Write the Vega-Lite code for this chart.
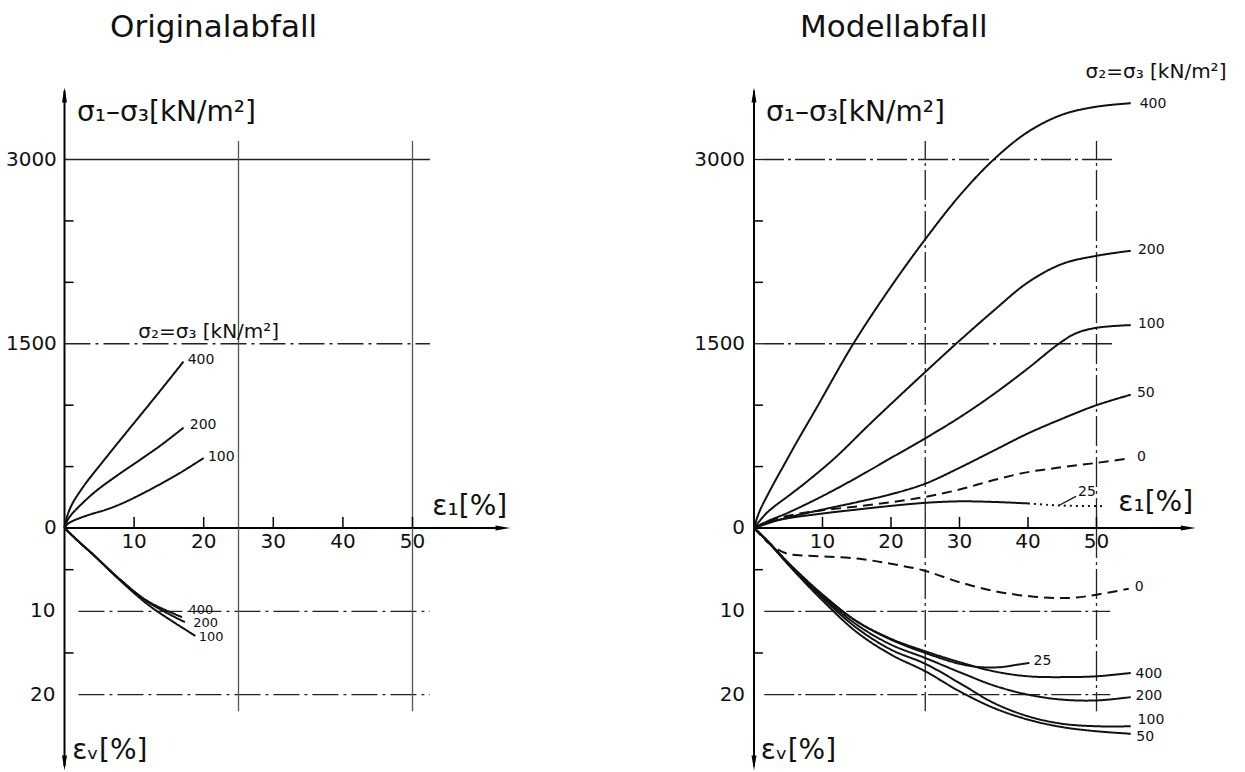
{
  "$schema": "https://vega.github.io/schema/vega-lite/v6.json",
  "padding": 0,
  "spacing": 0,
  "bounds": "flush",
  "background": "white",
  "config": {
    "view": {"stroke": null},
    "axis": {"disable": true},
    "legend": {"disable": true}
  },
  "datasets": {
    "curves": [
      {"p":"L","q":"s","id":"400","x":0,"y":0},{"p":"L","q":"s","id":"400","x":0.3,"y":80},{"p":"L","q":"s","id":"400","x":0.8,"y":160},{"p":"L","q":"s","id":"400","x":1.5,"y":235},{"p":"L","q":"s","id":"400","x":2.5,"y":320},{"p":"L","q":"s","id":"400","x":3.4,"y":390},{"p":"L","q":"s","id":"400","x":6,"y":575},{"p":"L","q":"s","id":"400","x":8.2,"y":730},{"p":"L","q":"s","id":"400","x":12.8,"y":1050},{"p":"L","q":"s","id":"400","x":17.1,"y":1355},
      {"p":"L","q":"s","id":"200","x":0,"y":0},{"p":"L","q":"s","id":"200","x":0.5,"y":70},{"p":"L","q":"s","id":"200","x":1,"y":110},{"p":"L","q":"s","id":"200","x":2,"y":170},{"p":"L","q":"s","id":"200","x":4.4,"y":295},{"p":"L","q":"s","id":"200","x":7.5,"y":425},{"p":"L","q":"s","id":"200","x":10.6,"y":545},{"p":"L","q":"s","id":"200","x":14,"y":680},{"p":"L","q":"s","id":"200","x":17.1,"y":817},
      {"p":"L","q":"s","id":"100","x":0,"y":0},{"p":"L","q":"s","id":"100","x":0.5,"y":35},{"p":"L","q":"s","id":"100","x":1.5,"y":65},{"p":"L","q":"s","id":"100","x":3.4,"y":105},{"p":"L","q":"s","id":"100","x":6,"y":150},{"p":"L","q":"s","id":"100","x":8.2,"y":198},{"p":"L","q":"s","id":"100","x":10.5,"y":260},{"p":"L","q":"s","id":"100","x":13,"y":334},{"p":"L","q":"s","id":"100","x":16.5,"y":445},{"p":"L","q":"s","id":"100","x":20,"y":570},
      {"p":"L","q":"v","id":"400","x":0,"y":0},{"p":"L","q":"v","id":"400","x":2,"y":1.6},{"p":"L","q":"v","id":"400","x":4,"y":3.1},{"p":"L","q":"v","id":"400","x":8,"y":6.2},{"p":"L","q":"v","id":"400","x":12,"y":8.8},{"p":"L","q":"v","id":"400","x":16.9,"y":10.7},
      {"p":"L","q":"v","id":"200","x":0,"y":0},{"p":"L","q":"v","id":"200","x":2,"y":1.6},{"p":"L","q":"v","id":"200","x":4,"y":3.1},{"p":"L","q":"v","id":"200","x":8,"y":6.2},{"p":"L","q":"v","id":"200","x":12,"y":8.9},{"p":"L","q":"v","id":"200","x":17.3,"y":11.3},
      {"p":"L","q":"v","id":"100","x":0,"y":0},{"p":"L","q":"v","id":"100","x":2,"y":1.6},{"p":"L","q":"v","id":"100","x":4,"y":3.1},{"p":"L","q":"v","id":"100","x":8,"y":6.3},{"p":"L","q":"v","id":"100","x":12,"y":9.2},{"p":"L","q":"v","id":"100","x":15.5,"y":11.2},{"p":"L","q":"v","id":"100","x":18.8,"y":12.95},

      {"p":"R","q":"s","id":"400","x":0,"y":0},{"p":"R","q":"s","id":"400","x":0.5,"y":90},{"p":"R","q":"s","id":"400","x":1,"y":160},{"p":"R","q":"s","id":"400","x":2,"y":270},{"p":"R","q":"s","id":"400","x":3,"y":375},{"p":"R","q":"s","id":"400","x":4.2,"y":495},{"p":"R","q":"s","id":"400","x":6.4,"y":715},{"p":"R","q":"s","id":"400","x":9,"y":965},{"p":"R","q":"s","id":"400","x":14.5,"y":1500},{"p":"R","q":"s","id":"400","x":20,"y":1965},{"p":"R","q":"s","id":"400","x":25,"y":2351},{"p":"R","q":"s","id":"400","x":30,"y":2705},{"p":"R","q":"s","id":"400","x":35,"y":3000},{"p":"R","q":"s","id":"400","x":40,"y":3225},{"p":"R","q":"s","id":"400","x":45,"y":3365},{"p":"R","q":"s","id":"400","x":50,"y":3430},{"p":"R","q":"s","id":"400","x":55,"y":3458},
      {"p":"R","q":"s","id":"200","x":0,"y":0},{"p":"R","q":"s","id":"200","x":1,"y":70},{"p":"R","q":"s","id":"200","x":2,"y":130},{"p":"R","q":"s","id":"200","x":3.3,"y":190},{"p":"R","q":"s","id":"200","x":5,"y":260},{"p":"R","q":"s","id":"200","x":8,"y":390},{"p":"R","q":"s","id":"200","x":12,"y":580},{"p":"R","q":"s","id":"200","x":16.6,"y":830},{"p":"R","q":"s","id":"200","x":20,"y":1010},{"p":"R","q":"s","id":"200","x":25,"y":1270},{"p":"R","q":"s","id":"200","x":29.5,"y":1500},{"p":"R","q":"s","id":"200","x":35,"y":1770},{"p":"R","q":"s","id":"200","x":40,"y":2000},{"p":"R","q":"s","id":"200","x":45,"y":2150},{"p":"R","q":"s","id":"200","x":50,"y":2216},{"p":"R","q":"s","id":"200","x":55,"y":2257},
      {"p":"R","q":"s","id":"100","x":0,"y":0},{"p":"R","q":"s","id":"100","x":2,"y":55},{"p":"R","q":"s","id":"100","x":5,"y":125},{"p":"R","q":"s","id":"100","x":10,"y":260},{"p":"R","q":"s","id":"100","x":15,"y":410},{"p":"R","q":"s","id":"100","x":20,"y":570},{"p":"R","q":"s","id":"100","x":25,"y":730},{"p":"R","q":"s","id":"100","x":30,"y":900},{"p":"R","q":"s","id":"100","x":35,"y":1090},{"p":"R","q":"s","id":"100","x":40,"y":1300},{"p":"R","q":"s","id":"100","x":44.5,"y":1500},{"p":"R","q":"s","id":"100","x":47,"y":1585},{"p":"R","q":"s","id":"100","x":50,"y":1630},{"p":"R","q":"s","id":"100","x":55,"y":1652},
      {"p":"R","q":"s","id":"50","x":0,"y":0},{"p":"R","q":"s","id":"50","x":3,"y":55},{"p":"R","q":"s","id":"50","x":6,"y":100},{"p":"R","q":"s","id":"50","x":10,"y":150},{"p":"R","q":"s","id":"50","x":15,"y":210},{"p":"R","q":"s","id":"50","x":20,"y":275},{"p":"R","q":"s","id":"50","x":25,"y":361},{"p":"R","q":"s","id":"50","x":30,"y":490},{"p":"R","q":"s","id":"50","x":35,"y":630},{"p":"R","q":"s","id":"50","x":40,"y":770},{"p":"R","q":"s","id":"50","x":45,"y":890},{"p":"R","q":"s","id":"50","x":50,"y":1000},{"p":"R","q":"s","id":"50","x":55,"y":1085},
      {"p":"R","q":"s","id":"0","x":0,"y":0},{"p":"R","q":"s","id":"0","x":2,"y":55},{"p":"R","q":"s","id":"0","x":5,"y":100},{"p":"R","q":"s","id":"0","x":10,"y":145},{"p":"R","q":"s","id":"0","x":15,"y":175},{"p":"R","q":"s","id":"0","x":20,"y":210},{"p":"R","q":"s","id":"0","x":25,"y":253},{"p":"R","q":"s","id":"0","x":30,"y":313},{"p":"R","q":"s","id":"0","x":35,"y":390},{"p":"R","q":"s","id":"0","x":40,"y":455},{"p":"R","q":"s","id":"0","x":45,"y":495},{"p":"R","q":"s","id":"0","x":50,"y":530},{"p":"R","q":"s","id":"0","x":55,"y":568},
      {"p":"R","q":"s","id":"25","x":0,"y":0},{"p":"R","q":"s","id":"25","x":2,"y":45},{"p":"R","q":"s","id":"25","x":5,"y":80},{"p":"R","q":"s","id":"25","x":10,"y":118},{"p":"R","q":"s","id":"25","x":15,"y":150},{"p":"R","q":"s","id":"25","x":20,"y":180},{"p":"R","q":"s","id":"25","x":25,"y":205},{"p":"R","q":"s","id":"25","x":30,"y":217},{"p":"R","q":"s","id":"25","x":35,"y":212},{"p":"R","q":"s","id":"25","x":40,"y":200},
      {"p":"R","q":"s","id":"25 ext","x":40,"y":200},{"p":"R","q":"s","id":"25 ext","x":43,"y":188},{"p":"R","q":"s","id":"25 ext","x":46,"y":181},{"p":"R","q":"s","id":"25 ext","x":51,"y":178},

      {"p":"R","q":"v","id":"0","x":0,"y":0},{"p":"R","q":"v","id":"0","x":1,"y":0.9},{"p":"R","q":"v","id":"0","x":2.25,"y":1.9},{"p":"R","q":"v","id":"0","x":3.5,"y":2.6},{"p":"R","q":"v","id":"0","x":4.9,"y":3.1},{"p":"R","q":"v","id":"0","x":7,"y":3.3},{"p":"R","q":"v","id":"0","x":10.1,"y":3.4},{"p":"R","q":"v","id":"0","x":15.4,"y":3.7},{"p":"R","q":"v","id":"0","x":20,"y":4.3},{"p":"R","q":"v","id":"0","x":24.8,"y":5.1},{"p":"R","q":"v","id":"0","x":30,"y":6.5},{"p":"R","q":"v","id":"0","x":35.3,"y":7.6},{"p":"R","q":"v","id":"0","x":40.3,"y":8.2},{"p":"R","q":"v","id":"0","x":44.2,"y":8.4},{"p":"R","q":"v","id":"0","x":47,"y":8.35},{"p":"R","q":"v","id":"0","x":50,"y":8.0},{"p":"R","q":"v","id":"0","x":54.7,"y":7.3},
      {"p":"R","q":"v","id":"400","x":0,"y":0},{"p":"R","q":"v","id":"400","x":2,"y":1.6},{"p":"R","q":"v","id":"400","x":5,"y":4.2},{"p":"R","q":"v","id":"400","x":10,"y":8.0},{"p":"R","q":"v","id":"400","x":15,"y":11.2},{"p":"R","q":"v","id":"400","x":20,"y":13.3},{"p":"R","q":"v","id":"400","x":25,"y":14.8},{"p":"R","q":"v","id":"400","x":30,"y":16.1},{"p":"R","q":"v","id":"400","x":35,"y":17.2},{"p":"R","q":"v","id":"400","x":40,"y":17.8},{"p":"R","q":"v","id":"400","x":45,"y":17.9},{"p":"R","q":"v","id":"400","x":50,"y":17.8},{"p":"R","q":"v","id":"400","x":55,"y":17.4},
      {"p":"R","q":"v","id":"25","x":0,"y":0},{"p":"R","q":"v","id":"25","x":2,"y":1.6},{"p":"R","q":"v","id":"25","x":5,"y":4.2},{"p":"R","q":"v","id":"25","x":10,"y":8.0},{"p":"R","q":"v","id":"25","x":15,"y":11.2},{"p":"R","q":"v","id":"25","x":20,"y":13.4},{"p":"R","q":"v","id":"25","x":25,"y":15.0},{"p":"R","q":"v","id":"25","x":30,"y":16.3},{"p":"R","q":"v","id":"25","x":33,"y":16.7},{"p":"R","q":"v","id":"25","x":36,"y":16.7},{"p":"R","q":"v","id":"25","x":38.5,"y":16.4},{"p":"R","q":"v","id":"25","x":40.2,"y":16.2},
      {"p":"R","q":"v","id":"200","x":0,"y":0},{"p":"R","q":"v","id":"200","x":2,"y":1.6},{"p":"R","q":"v","id":"200","x":5,"y":4.2},{"p":"R","q":"v","id":"200","x":10,"y":8.2},{"p":"R","q":"v","id":"200","x":15,"y":11.6},{"p":"R","q":"v","id":"200","x":20,"y":14.0},{"p":"R","q":"v","id":"200","x":25,"y":15.6},{"p":"R","q":"v","id":"200","x":30,"y":17.3},{"p":"R","q":"v","id":"200","x":35,"y":18.9},{"p":"R","q":"v","id":"200","x":40,"y":20.0},{"p":"R","q":"v","id":"200","x":45,"y":20.6},{"p":"R","q":"v","id":"200","x":50,"y":20.7},{"p":"R","q":"v","id":"200","x":55,"y":20.3},
      {"p":"R","q":"v","id":"100","x":0,"y":0},{"p":"R","q":"v","id":"100","x":2,"y":1.6},{"p":"R","q":"v","id":"100","x":5,"y":4.3},{"p":"R","q":"v","id":"100","x":10,"y":8.4},{"p":"R","q":"v","id":"100","x":15,"y":12.0},{"p":"R","q":"v","id":"100","x":20,"y":14.6},{"p":"R","q":"v","id":"100","x":25,"y":16.3},{"p":"R","q":"v","id":"100","x":30,"y":18.6},{"p":"R","q":"v","id":"100","x":35,"y":21.0},{"p":"R","q":"v","id":"100","x":40,"y":22.6},{"p":"R","q":"v","id":"100","x":45,"y":23.5},{"p":"R","q":"v","id":"100","x":50,"y":23.8},{"p":"R","q":"v","id":"100","x":55,"y":23.8},
      {"p":"R","q":"v","id":"50","x":0,"y":0},{"p":"R","q":"v","id":"50","x":2,"y":1.6},{"p":"R","q":"v","id":"50","x":5,"y":4.4},{"p":"R","q":"v","id":"50","x":10,"y":8.7},{"p":"R","q":"v","id":"50","x":15,"y":12.5},{"p":"R","q":"v","id":"50","x":20,"y":15.2},{"p":"R","q":"v","id":"50","x":25,"y":17.2},{"p":"R","q":"v","id":"50","x":30,"y":19.6},{"p":"R","q":"v","id":"50","x":35,"y":21.6},{"p":"R","q":"v","id":"50","x":40,"y":23.0},{"p":"R","q":"v","id":"50","x":45,"y":23.9},{"p":"R","q":"v","id":"50","x":50,"y":24.4},{"p":"R","q":"v","id":"50","x":55,"y":24.7}
    ],
    "xticks": [{"v":10,"t":"10"},{"v":20,"t":"20"},{"v":30,"t":"30"},{"v":40,"t":"40"},{"v":50,"t":"50"}],
    "sLabels": [{"v":0,"t":"0"},{"v":1500,"t":"1500"},{"v":3000,"t":"3000"}],
    "vLabels": [{"v":10,"t":"10"},{"v":20,"t":"20"}],
    "sMinor": [{"v":500},{"v":1000},{"v":2000},{"v":2500}],
    "vMinor": [{"v":5},{"v":15}],
    "vgrid": [{"v":25},{"v":50}]
  },
  "hconcat": [
    {
      "width": 620,
      "height": 772,
      "resolve": {"scale": {"y": "independent"}},
      "layer": [
        {
          "layer": [
            {"data": {"values": [{"v":3000}]}, "mark": {"type":"rule","color":"#222","strokeWidth":1.3},
             "encoding": {"y": {"field":"v","type":"quantitative","scale":{"domain":[-1986.5,4298.6],"nice":false,"zero":false}},
                          "x": {"datum":0,"scale":{"domain":[-9.267,79.813],"nice":false,"zero":false}}, "x2": {"datum":52.5}}},
            {"data": {"values": [{"v":1500}]}, "mark": {"type":"rule","color":"#222","strokeWidth":1.3,"strokeDash":[26,5,3,5]},
             "encoding": {"y": {"field":"v","type":"quantitative"}, "x": {"datum":0}, "x2": {"datum":52.5}}},
            {"data": {"name":"vgrid"}, "mark": {"type":"rule","color":"#555","strokeWidth":1.3},
             "encoding": {"x": {"field":"v","type":"quantitative"}, "y": {"datum":0}, "y2": {"datum":3150}}},
            {"data": {"values": [{}]}, "mark": {"type":"rule","color":"#000","strokeWidth":2},
             "encoding": {"x": {"datum":0}, "y": {"datum":0}, "y2": {"datum":3560}}},
            {"data": {"values": [{}]}, "mark": {"type":"rule","color":"#000","strokeWidth":2},
             "encoding": {"y": {"datum":0}, "x": {"datum":0}, "x2": {"datum":63}}},
            {"data": {"values": [{}]}, "mark": {"type":"point","shape":"M0,-1L0.33,1L-0.33,1Z","filled":true,"size":225,"color":"#000","opacity":1},
             "encoding": {"x": {"datum":0}, "y": {"datum":3525}}},
            {"data": {"values": [{}]}, "mark": {"type":"point","shape":"M1,0L-1,0.33L-1,-0.33Z","filled":true,"size":225,"color":"#000","opacity":1},
             "encoding": {"x": {"datum":63}, "y": {"datum":0}}},
            {"data": {"name":"sMinor"}, "mark": {"type":"rule","color":"#000","strokeWidth":1.5},
             "encoding": {"y": {"field":"v","type":"quantitative"}, "x": {"datum":0}, "x2": {"datum":1.3}}},
            {"data": {"name":"xticks"}, "mark": {"type":"rule","color":"#000","strokeWidth":1.5},
             "encoding": {"x": {"field":"v","type":"quantitative"}, "y": {"datum":0}, "y2": {"datum":90}}},
            {"data": {"name":"curves"}, "transform": [{"filter": {"and": [{"field":"p","equal":"L"},{"field":"q","equal":"s"}]}}],
             "mark": {"type":"line","interpolate":"catmull-rom","strokeWidth":2,"color":"#111"},
             "encoding": {"x": {"field":"x","type":"quantitative"}, "y": {"field":"y","type":"quantitative"},
                          "strokeDash": {"field":"id","type":"nominal","scale":{"domain":["400","200","100","50","25","0","25 ext"],"range":[[1,0],[1,0],[1,0],[1,0],[1,0],[10,6],[2,4]]}}}},
            {"data": {"name":"sLabels"}, "mark": {"type":"text","align":"right","baseline":"middle","font":"DejaVu Sans","fontSize":20,"color":"#111"},
             "encoding": {"y": {"field":"v","type":"quantitative"}, "x": {"datum":-1.1}, "text": {"field":"t"}}},
            {"data": {"name":"xticks"}, "mark": {"type":"text","align":"center","baseline":"middle","font":"DejaVu Sans","fontSize":20,"color":"#111"},
             "encoding": {"x": {"field":"v","type":"quantitative"}, "y": {"datum":-112}, "text": {"field":"t"}}},
            {"data": {"values": [{"t":"Originalabfall","x":6.54,"y":3997}]}, "mark": {"type":"text","align":"left","baseline":"alphabetic","font":"DejaVu Sans","fontSize":31,"color":"#111"},
             "encoding": {"x": {"field":"x","type":"quantitative"}, "y": {"field":"y","type":"quantitative"}, "text": {"field":"t"}}},
            {"data": {"values": [{"t":"σ₁–σ₃[kN/m²]","x":1.8,"y":3379}]}, "mark": {"type":"text","align":"left","baseline":"middle","font":"DejaVu Sans","fontSize":28,"color":"#111"},
             "encoding": {"x": {"field":"x","type":"quantitative"}, "y": {"field":"y","type":"quantitative"}, "text": {"field":"t"}}},
            {"data": {"values": [{"t":"ε₁[%]","x":63.6,"y":171}]}, "mark": {"type":"text","align":"right","baseline":"middle","font":"DejaVu Sans","fontSize":28,"color":"#111"},
             "encoding": {"x": {"field":"x","type":"quantitative"}, "y": {"field":"y","type":"quantitative"}, "text": {"field":"t"}}},
            {"data": {"values": [{"t":"σ₂=σ₃ [kN/m²]","x":10.6,"y":1547}]}, "mark": {"type":"text","align":"left","baseline":"alphabetic","font":"DejaVu Sans","fontSize":20,"color":"#111"},
             "encoding": {"x": {"field":"x","type":"quantitative"}, "y": {"field":"y","type":"quantitative"}, "text": {"field":"t"}}},
            {"data": {"values": [{"t":"400","x":17.7,"y":1368},{"t":"200","x":18.0,"y":838},{"t":"100","x":20.6,"y":580}]}, "mark": {"type":"text","align":"left","baseline":"middle","font":"DejaVu Sans","fontSize":14,"color":"#111"},
             "encoding": {"x": {"field":"x","type":"quantitative"}, "y": {"field":"y","type":"quantitative"}, "text": {"field":"t"}}}
          ]
        },
        {
          "layer": [
            {"data": {"values": [{"v":10},{"v":20}]}, "mark": {"type":"rule","color":"#222","strokeWidth":1.3,"strokeDash":[26,5,3,5]},
             "encoding": {"y": {"field":"v","type":"quantitative","scale":{"domain":[-63.39,29.29],"nice":false,"zero":false,"reverse":true}},
                          "x": {"datum":2}, "x2": {"datum":52.5}}},
            {"data": {"name":"vgrid"}, "mark": {"type":"rule","color":"#555","strokeWidth":1.3},
             "encoding": {"x": {"field":"v","type":"quantitative"}, "y": {"datum":0}, "y2": {"datum":22}}},
            {"data": {"values": [{}]}, "mark": {"type":"rule","color":"#000","strokeWidth":2},
             "encoding": {"x": {"datum":0}, "y": {"datum":0}, "y2": {"datum":28.6}}},
            {"data": {"values": [{}]}, "mark": {"type":"point","shape":"M0,1L0.33,-1L-0.33,-1Z","filled":true,"size":225,"color":"#000","opacity":1},
             "encoding": {"x": {"datum":0}, "y": {"datum":28.2}}},
            {"data": {"name":"vMinor"}, "mark": {"type":"rule","color":"#000","strokeWidth":1.5},
             "encoding": {"y": {"field":"v","type":"quantitative"}, "x": {"datum":0}, "x2": {"datum":1.3}}},
            {"data": {"name":"curves"}, "transform": [{"filter": {"and": [{"field":"p","equal":"L"},{"field":"q","equal":"v"}]}}],
             "mark": {"type":"line","interpolate":"catmull-rom","strokeWidth":2,"color":"#111"},
             "encoding": {"x": {"field":"x","type":"quantitative"}, "y": {"field":"y","type":"quantitative"},
                          "strokeDash": {"field":"id","type":"nominal","scale":{"domain":["400","200","100","50","25","0","25 ext"],"range":[[1,0],[1,0],[1,0],[1,0],[1,0],[10,6],[2,4]]}}}},
            {"data": {"name":"vLabels"}, "mark": {"type":"text","align":"right","baseline":"middle","font":"DejaVu Sans","fontSize":20,"color":"#111"},
             "encoding": {"y": {"field":"v","type":"quantitative"}, "x": {"datum":-1.3}, "text": {"field":"t"}}},
            {"data": {"values": [{"t":"εᵥ[%]","x":1.1,"y":26.8}]}, "mark": {"type":"text","align":"left","baseline":"middle","font":"DejaVu Sans","fontSize":28,"color":"#111"},
             "encoding": {"x": {"field":"x","type":"quantitative"}, "y": {"field":"y","type":"quantitative"}, "text": {"field":"t"}}},
            {"data": {"values": [{"t":"400","x":17.8,"y":9.8},{"t":"200","x":18.5,"y":11.4},{"t":"100","x":19.3,"y":13.1}]}, "mark": {"type":"text","align":"left","baseline":"middle","font":"DejaVu Sans","fontSize":13,"color":"#111"},
             "encoding": {"x": {"field":"x","type":"quantitative"}, "y": {"field":"y","type":"quantitative"}, "text": {"field":"t"}}}
          ]
        }
      ]
    },
    {
      "width": 625,
      "height": 772,
      "resolve": {"scale": {"y": "independent"}},
      "layer": [
        {
          "layer": [
            {"data": {"values": [{"v":3000},{"v":1500}]}, "mark": {"type":"rule","color":"#222","strokeWidth":1.3,"strokeDash":[30,4,3,4]},
             "encoding": {"y": {"field":"v","type":"quantitative","scale":{"domain":[-1986.5,4298.6],"nice":false,"zero":false}},
                          "x": {"datum":0,"scale":{"domain":[-19.562,71.679],"nice":false,"zero":false}}, "x2": {"datum":52.6}}},
            {"data": {"name":"vgrid"}, "mark": {"type":"rule","color":"#222","strokeWidth":1.3,"strokeDash":[30,4,3,4]},
             "encoding": {"x": {"field":"v","type":"quantitative"}, "y": {"datum":0}, "y2": {"datum":3150}}},
            {"data": {"values": [{}]}, "mark": {"type":"rule","color":"#000","strokeWidth":2},
             "encoding": {"x": {"datum":0}, "y": {"datum":0}, "y2": {"datum":3560}}},
            {"data": {"values": [{}]}, "mark": {"type":"rule","color":"#000","strokeWidth":2},
             "encoding": {"y": {"datum":0}, "x": {"datum":0}, "x2": {"datum":63.4}}},
            {"data": {"values": [{}]}, "mark": {"type":"point","shape":"M0,-1L0.33,1L-0.33,1Z","filled":true,"size":225,"color":"#000","opacity":1},
             "encoding": {"x": {"datum":0}, "y": {"datum":3525}}},
            {"data": {"values": [{}]}, "mark": {"type":"point","shape":"M1,0L-1,0.33L-1,-0.33Z","filled":true,"size":225,"color":"#000","opacity":1},
             "encoding": {"x": {"datum":63.4}, "y": {"datum":0}}},
            {"data": {"name":"sMinor"}, "mark": {"type":"rule","color":"#000","strokeWidth":1.5},
             "encoding": {"y": {"field":"v","type":"quantitative"}, "x": {"datum":0}, "x2": {"datum":1.3}}},
            {"data": {"name":"xticks"}, "mark": {"type":"rule","color":"#000","strokeWidth":1.5},
             "encoding": {"x": {"field":"v","type":"quantitative"}, "y": {"datum":0}, "y2": {"datum":90}}},
            {"data": {"values": [{"x":44.5,"y":183},{"x":47.0,"y":258}]}, "mark": {"type":"line","strokeWidth":1.3,"color":"#111"},
             "encoding": {"x": {"field":"x","type":"quantitative"}, "y": {"field":"y","type":"quantitative"}}},
            {"data": {"name":"curves"}, "transform": [{"filter": {"and": [{"field":"p","equal":"R"},{"field":"q","equal":"s"}]}}],
             "mark": {"type":"line","interpolate":"catmull-rom","strokeWidth":2,"color":"#111"},
             "encoding": {"x": {"field":"x","type":"quantitative"}, "y": {"field":"y","type":"quantitative"},
                          "strokeDash": {"field":"id","type":"nominal","scale":{"domain":["400","200","100","50","25","0","25 ext"],"range":[[1,0],[1,0],[1,0],[1,0],[1,0],[10,6],[2,4]]}}}},
            {"data": {"name":"sLabels"}, "mark": {"type":"text","align":"right","baseline":"middle","font":"DejaVu Sans","fontSize":20,"color":"#111"},
             "encoding": {"y": {"field":"v","type":"quantitative"}, "x": {"datum":-1.3}, "text": {"field":"t"}}},
            {"data": {"name":"xticks"}, "mark": {"type":"text","align":"center","baseline":"middle","font":"DejaVu Sans","fontSize":20,"color":"#111"},
             "encoding": {"x": {"field":"v","type":"quantitative"}, "y": {"datum":-112}, "text": {"field":"t"}}},
            {"data": {"values": [{"t":"Modellabfall","x":6.72,"y":3997}]}, "mark": {"type":"text","align":"left","baseline":"alphabetic","font":"DejaVu Sans","fontSize":31,"color":"#111"},
             "encoding": {"x": {"field":"x","type":"quantitative"}, "y": {"field":"y","type":"quantitative"}, "text": {"field":"t"}}},
            {"data": {"values": [{"t":"σ₁–σ₃[kN/m²]","x":1.75,"y":3379}]}, "mark": {"type":"text","align":"left","baseline":"middle","font":"DejaVu Sans","fontSize":28,"color":"#111"},
             "encoding": {"x": {"field":"x","type":"quantitative"}, "y": {"field":"y","type":"quantitative"}, "text": {"field":"t"}}},
            {"data": {"values": [{"t":"ε₁[%]","x":64.1,"y":204}]}, "mark": {"type":"text","align":"right","baseline":"middle","font":"DejaVu Sans","fontSize":28,"color":"#111"},
             "encoding": {"x": {"field":"x","type":"quantitative"}, "y": {"field":"y","type":"quantitative"}, "text": {"field":"t"}}},
            {"data": {"values": [{"t":"σ₂=σ₃ [kN/m²]","x":48.4,"y":3716}]}, "mark": {"type":"text","align":"left","baseline":"middle","font":"DejaVu Sans","fontSize":20,"color":"#111"},
             "encoding": {"x": {"field":"x","type":"quantitative"}, "y": {"field":"y","type":"quantitative"}, "text": {"field":"t"}}},
            {"data": {"values": [{"t":"400","x":56.3,"y":3451},{"t":"200","x":56.05,"y":2265},{"t":"100","x":56.05,"y":1662},{"t":"50","x":55.9,"y":1095},{"t":"0","x":55.9,"y":576},{"t":"25","x":47.3,"y":295}]}, "mark": {"type":"text","align":"left","baseline":"middle","font":"DejaVu Sans","fontSize":14,"color":"#111"},
             "encoding": {"x": {"field":"x","type":"quantitative"}, "y": {"field":"y","type":"quantitative"}, "text": {"field":"t"}}}
          ]
        },
        {
          "layer": [
            {"data": {"values": [{"v":10},{"v":20}]}, "mark": {"type":"rule","color":"#222","strokeWidth":1.3,"strokeDash":[30,4,3,4]},
             "encoding": {"y": {"field":"v","type":"quantitative","scale":{"domain":[-63.39,29.29],"nice":false,"zero":false,"reverse":true}},
                          "x": {"datum":1.5}, "x2": {"datum":52}}},
            {"data": {"name":"vgrid"}, "mark": {"type":"rule","color":"#222","strokeWidth":1.3,"strokeDash":[30,4,3,4]},
             "encoding": {"x": {"field":"v","type":"quantitative"}, "y": {"datum":0}, "y2": {"datum":22}}},
            {"data": {"values": [{}]}, "mark": {"type":"rule","color":"#000","strokeWidth":2},
             "encoding": {"x": {"datum":0}, "y": {"datum":0}, "y2": {"datum":28.6}}},
            {"data": {"values": [{}]}, "mark": {"type":"point","shape":"M0,1L0.33,-1L-0.33,-1Z","filled":true,"size":225,"color":"#000","opacity":1},
             "encoding": {"x": {"datum":0}, "y": {"datum":28.2}}},
            {"data": {"name":"vMinor"}, "mark": {"type":"rule","color":"#000","strokeWidth":1.5},
             "encoding": {"y": {"field":"v","type":"quantitative"}, "x": {"datum":0}, "x2": {"datum":1.3}}},
            {"data": {"name":"curves"}, "transform": [{"filter": {"and": [{"field":"p","equal":"R"},{"field":"q","equal":"v"}]}}],
             "mark": {"type":"line","interpolate":"catmull-rom","strokeWidth":2,"color":"#111"},
             "encoding": {"x": {"field":"x","type":"quantitative"}, "y": {"field":"y","type":"quantitative"},
                          "strokeDash": {"field":"id","type":"nominal","scale":{"domain":["400","200","100","50","25","0","25 ext"],"range":[[1,0],[1,0],[1,0],[1,0],[1,0],[10,6],[2,4]]}}}},
            {"data": {"name":"vLabels"}, "mark": {"type":"text","align":"right","baseline":"middle","font":"DejaVu Sans","fontSize":20,"color":"#111"},
             "encoding": {"y": {"field":"v","type":"quantitative"}, "x": {"datum":-1.3}, "text": {"field":"t"}}},
            {"data": {"values": [{"t":"εᵥ[%]","x":1.0,"y":26.8}]}, "mark": {"type":"text","align":"left","baseline":"middle","font":"DejaVu Sans","fontSize":28,"color":"#111"},
             "encoding": {"x": {"field":"x","type":"quantitative"}, "y": {"field":"y","type":"quantitative"}, "text": {"field":"t"}}},
            {"data": {"values": [{"t":"0","x":55.6,"y":7.1},{"t":"25","x":40.8,"y":16.0},{"t":"400","x":55.7,"y":17.5},{"t":"200","x":55.7,"y":20.2},{"t":"100","x":56.0,"y":23.1},{"t":"50","x":55.8,"y":25.1}]}, "mark": {"type":"text","align":"left","baseline":"middle","font":"DejaVu Sans","fontSize":14,"color":"#111"},
             "encoding": {"x": {"field":"x","type":"quantitative"}, "y": {"field":"y","type":"quantitative"}, "text": {"field":"t"}}}
          ]
        }
      ]
    }
  ]
}
